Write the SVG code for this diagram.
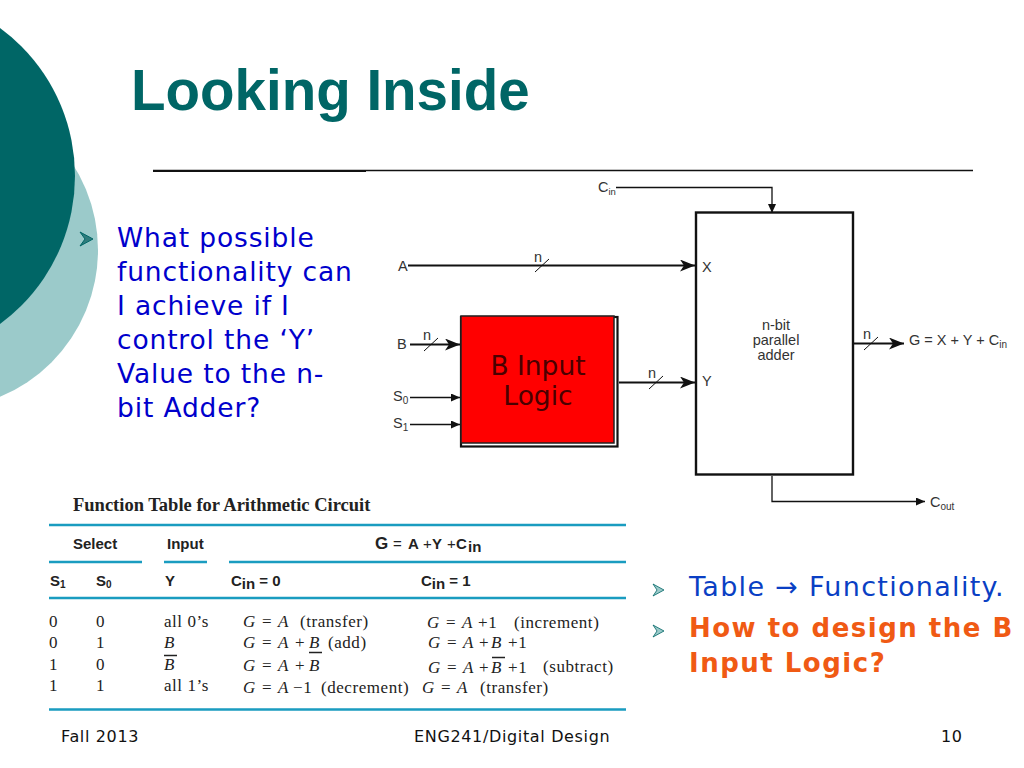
<svg xmlns="http://www.w3.org/2000/svg" width="1024" height="768" viewBox="0 0 1024 768">
<style>
.d{font-family:"DejaVu Sans",sans-serif}
.h{font-family:"Liberation Sans",sans-serif;fill:#333;font-size:14.5px}
.s{font-family:"Liberation Serif",serif;fill:#222;font-size:17px;letter-spacing:.55px}
.b{font-family:"Liberation Sans",sans-serif;font-weight:bold;fill:#222;font-size:15px}
.w{stroke:#111;fill:none;stroke-width:1.3}
.t{stroke:#111;fill:none;stroke-width:2.2}
.r{stroke:#1a9cc0;stroke-width:2.6;fill:none}
.bl{font-family:"DejaVu Sans",sans-serif;font-size:26.5px;letter-spacing:.85px;fill:#0000cc}
.tl{font-family:"DejaVu Sans",sans-serif;font-size:27px;letter-spacing:1.3px;fill:#0a3fc4}
.or{font-family:"DejaVu Sans",sans-serif;font-size:26px;letter-spacing:1.5px;font-weight:bold;fill:#f05a14}
.f{font-family:"DejaVu Sans",sans-serif;font-size:16px;letter-spacing:.65px;fill:#111}
.i{font-style:italic}
</style>
<defs>
<marker id="big" markerUnits="userSpaceOnUse" markerWidth="16" markerHeight="12" refX="15" refY="6" orient="auto"><path d="M0,0L15,6L0,12L4,6Z" fill="#111"/></marker>
<marker id="sm" markerUnits="userSpaceOnUse" markerWidth="9" markerHeight="10" refX="9" refY="4" orient="auto"><path d="M0,0L9,4L0,8Z" fill="#111"/></marker>
</defs>
<rect width="1024" height="768" fill="#fff"/>
<g id="background">
<circle cx="-61" cy="250" r="159" fill="#9bcaca"/>
<circle cx="-108.500" cy="176" r="183.500" fill="#006666"/>
<path d="M80,232L93,239L80,246L85,239Z" fill="#2f7c7c" stroke="#006666" stroke-width="1"/>
</g>
<g id="title"><text x="131" y="110" font-family="Liberation Sans,sans-serif" font-size="56.500" font-weight="bold" fill="#006666">Looking Inside</text>
<path d="M153,170.500H973" stroke="#111" stroke-width="1.300"/><path d="M153,171.500H366" stroke="#111" stroke-width="1"/></g>
<g id="bullets-left">
<text class="bl" x="117" y="247">What possible</text>
<text class="bl" x="117" y="281">functionality can</text>
<text class="bl" x="117" y="315">I achieve if I</text>
<text class="bl" x="117" y="349">control the ‘Y’</text>
<text class="bl" x="117" y="383">Value to the n-</text>
<text class="bl" x="117" y="417">bit Adder?</text>
</g>
<g id="connectors">
<path class="w" d="M616,187.500H772V213" marker-end="url(#sm)"/>
<path class="t" d="M408,265.500H695" marker-end="url(#big)"/>
<path class="t" d="M410,344.500H460" marker-end="url(#big)"/>
<path class="w" d="M410,397.500H460" marker-end="url(#sm)"/>
<path class="w" d="M410,424.500H460" marker-end="url(#sm)"/>
<path class="t" d="M619,382.500H695" marker-end="url(#big)"/>
<path class="t" d="M854,343.500H904" marker-end="url(#big)"/>
<path class="w" d="M772,476V501.500H925" marker-end="url(#sm)"/>
<path d="M535,272L549,259M424,351L438,338M649,389L663,376M864,350L878,337" stroke="#111" stroke-width="1"/>
</g>
<g id="adder"><rect x="696" y="212.500" width="157" height="262" fill="#fff" stroke="#111" stroke-width="2.400"/>
<text class="h" text-anchor="middle" x="776" y="330">n-bit</text>
<text class="h" text-anchor="middle" x="776" y="345">parallel</text>
<text class="h" text-anchor="middle" x="776" y="360">adder</text>
<text class="h" x="702" y="272">X</text>
<text class="h" x="702" y="386">Y</text></g>
<g id="b-input-logic"><rect x="461" y="317" width="156.500" height="129.500" fill="#fff" stroke="#111" stroke-width="2.200"/>
<rect x="461" y="316" width="153" height="127" fill="#f00" stroke="#222" stroke-width="1.500"/>
<text class="d" font-size="26.500" text-anchor="middle" x="538" y="375" fill="#4a0000">B Input</text>
<text class="d" font-size="26.500" text-anchor="middle" x="538" y="405" fill="#4a0000">Logic</text></g>
<g id="labels">
<text class="h" x="598" y="192">C<tspan font-size="9.500" dy="3">in</tspan></text>
<text class="h" x="398" y="271">A</text>
<text class="h" x="534" y="262">n</text>
<text class="h" x="397" y="349">B</text>
<text class="h" x="423" y="340">n</text>
<text class="h" x="393" y="401">S<tspan font-size="10" dy="3">0</tspan></text>
<text class="h" x="393" y="428">S<tspan font-size="10" dy="3">1</tspan></text>
<text class="h" x="648" y="378">n</text>
<text class="h" x="863" y="339">n</text>
<text class="h" x="909" y="345">G = X + Y + C<tspan font-size="10" dy="3">in</tspan></text>
<text class="h" x="930" y="507">C<tspan font-size="10" dy="3">out</tspan></text>
</g>
<g id="table">
<text x="73" y="511" font-family="Liberation Serif,serif" font-weight="bold" font-size="18.500" fill="#222">Function Table for Arithmetic Circuit</text>
<path class="r" d="M49,525H626M49,562H142M164,562H207M229,562H626M49,598H626M49,709.500H626"/>
<text class="b" x="73" y="549">Select</text><text class="b" x="167" y="549">Input</text>
<text class="b" x="375" y="549"><tspan font-size="17">G</tspan><tspan x="393" font-weight="normal">=</tspan><tspan x="408">A</tspan><tspan x="423" font-weight="normal">+</tspan><tspan x="432">Y</tspan><tspan x="447" font-weight="normal">+</tspan><tspan x="456">C</tspan><tspan x="468" dy="3">in</tspan></text>
<text class="b" x="50" y="586">S<tspan font-size="10" dy="2">1</tspan></text><text class="b" x="96" y="586">S<tspan font-size="10" dy="2">0</tspan></text><text class="b" x="165" y="586">Y</text>
<text class="b" x="231" y="586">C<tspan dy="3">in</tspan><tspan dy="-3"> = 0</tspan></text>
<text class="b" x="421" y="586">C<tspan dy="3">in</tspan><tspan dy="-3"> = 1</tspan></text>
<text class="s" x="49" y="627">0</text><text class="s" x="96" y="627">0</text><text class="s" x="164" y="627">all 0’s</text>
<text class="s" x="49" y="648">0</text><text class="s" x="96" y="648">1</text><text class="s i" x="164" y="648">B</text>
<text class="s" x="49" y="670">1</text><text class="s" x="96" y="670">0</text><text class="s i" x="164" y="670">B</text>
<text class="s" x="49" y="691">1</text><text class="s" x="96" y="691">1</text><text class="s" x="164" y="691">all 1’s</text>
<text class="s" y="627"><tspan class="i" x="243">G</tspan><tspan x="262">=</tspan><tspan class="i" x="278">A</tspan><tspan x="300">(transfer)</tspan></text>
<text class="s" y="648"><tspan class="i" x="243">G</tspan><tspan x="262">=</tspan><tspan class="i" x="278">A</tspan><tspan x="295">+</tspan><tspan class="i" x="309">B</tspan><tspan x="328">(add)</tspan></text>
<text class="s" y="671"><tspan class="i" x="243">G</tspan><tspan x="262">=</tspan><tspan class="i" x="278">A</tspan><tspan x="295">+</tspan><tspan class="i" x="309">B</tspan></text>
<text class="s" y="693"><tspan class="i" x="243">G</tspan><tspan x="262">=</tspan><tspan class="i" x="278">A</tspan><tspan x="293">−1</tspan><tspan x="321">(decrement)</tspan></text>
<text class="s" y="628"><tspan class="i" x="427">G</tspan><tspan x="446">=</tspan><tspan class="i" x="462">A</tspan><tspan x="478">+1</tspan><tspan x="514">(increment)</tspan></text>
<text class="s" y="647.500"><tspan class="i" x="428">G</tspan><tspan x="447">=</tspan><tspan class="i" x="463">A</tspan><tspan x="479">+</tspan><tspan class="i" x="491">B</tspan><tspan x="508">+1</tspan></text>
<text class="s" y="673"><tspan class="i" x="428">G</tspan><tspan x="447">=</tspan><tspan class="i" x="463">A</tspan><tspan x="479">+</tspan><tspan class="i" x="491">B</tspan><tspan x="508">+1</tspan></text>
<text class="s" x="543" y="671.500">(subtract)</text>
<text class="s" y="692.500"><tspan class="i" x="422">G</tspan><tspan x="441">=</tspan><tspan class="i" x="457">A</tspan><tspan x="480">(transfer)</tspan></text>
<path d="M164,655.500H177M309,652.500H322M492,657.500H505" stroke="#222" stroke-width="1.300"/>
</g>
<g id="bullets-right">
<path d="M653,584L664,590L653,596L657,590Z" fill="#9bcaca" stroke="#006666" stroke-width=".8"/>
<path d="M653,625L664,631L653,637L657,631Z" fill="#9bcaca" stroke="#006666" stroke-width=".8"/>
<text class="tl" x="689" y="596">Table → Functionality.</text>
<text class="or" x="689" y="637">How to design the B</text>
<text class="or" x="689" y="672">Input Logic?</text>
</g>
<g id="footer">
<text class="f" x="61" y="742">Fall 2013</text>
<text class="f" x="414" y="742">ENG241/Digital Design</text>
<text class="f" x="941" y="742">10</text>
</g>
</svg>
